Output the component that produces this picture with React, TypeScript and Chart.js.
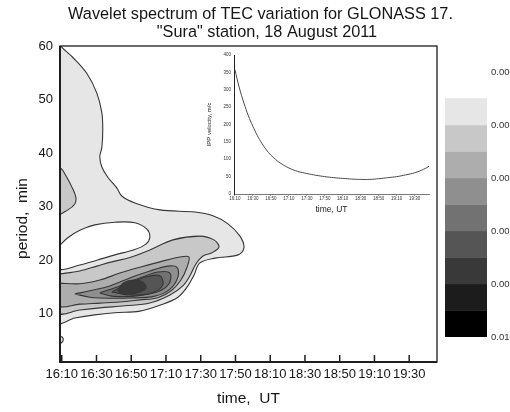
import { useEffect, useRef } from 'react';
import { Chart, registerables } from 'chart.js';

Chart.register(...registerables);

const FONT = '"Liberation Sans", Arial, Helvetica, sans-serif';
Chart.defaults.font.family = FONT;

// ---------- text ----------
const TITLE_LINES = ['Wavelet spectrum of TEC variation for GLONASS 17.', '"Sura" station, 18 August 2011'];
const X_TITLE = 'time,  UT';
const Y_TITLE = 'period,  min';
const INSET_X_TITLE = 'time, UT';
const INSET_Y_TITLE = 'IPP velocity, m/c';

// ---------- axes (time = minutes after 16:00 UT) ----------
const X_MIN = 9;
const X_MAX = 226;
const X_TICKS = [10, 30, 50, 70, 90, 110, 130, 150, 170, 190, 210];
const Y_MIN = 1;
const Y_MAX = 60;
const Y_TICKS = [10, 20, 30, 40, 50, 60];
const INSET_Y_TICKS = [0, 50, 100, 150, 200, 250, 300, 350, 400];

// ---------- colour scale ----------
const LEVELS = [0, 0.001, 0.002, 0.003, 0.004, 0.005, 0.006, 0.007, 0.008, 0.009, 0.01];
const LEVEL_LABELS = [0, 0.002, 0.004, 0.006, 0.008, 0.01];
const LEVEL_COLORS = ['#e6e6e6', '#c8c8c8', '#adadad', '#8f8f8f', '#727272', '#555555', '#393939', '#1c1c1c', '#000000'];

// ---------- inset: IPP velocity ----------
const INSET_TIMES = [10, 15, 20, 25, 30, 35, 40, 45, 50, 55, 60, 70, 80, 90, 100, 110, 120, 130, 140, 150, 160, 170, 180, 190, 200, 210, 220, 226];
const INSET_VELOCITY = [358, 305, 262, 225, 195, 168, 146, 127, 112, 100, 90, 75, 65, 59, 54, 50, 47, 45, 43, 42, 42, 44, 47, 50, 55, 61, 71, 80];

// ---------- contour polygons [time, period] ----------
const CONTOUR_L1_MAIN = [
  [8, 61], [10, 59.8], [16.3, 57.9], [24.4, 54.9], [30.2, 51.2], [33.1, 47.5], [33.6, 44.3], [33.1, 41.1],
  [31.9, 39.3], [33.1, 37.4], [36.5, 35.5], [41.7, 33.5], [44.6, 32], [52.1, 30.7], [66.5, 29.4], [86.7, 29.0],
  [97, 28.3], [105.7, 26.8], [112.6, 24.5], [114.9, 22.3], [111.5, 21.0], [98.2, 20.4], [89.5, 19.5],
  [86.1, 17.2], [82.6, 15.2], [76.9, 13.1], [66.5, 11.6], [55, 10.5], [40.6, 10.2], [29, 9.8], [17.5, 9.2], [8, 8.5],
];
const CONTOUR_L1_BLIP = [[8, 5.9], [10.4, 5.6], [10.5, 4.8], [8, 4.4]];
const CONTOUR_HOLE = [
  [8, 22.5], [13.5, 24.2], [20.4, 25.6], [29, 26.6], [40.6, 27.1], [52.1, 27.0], [59, 25.8], [60.7, 24.3],
  [58.4, 23.0], [52.1, 22.0], [40.6, 21.0], [30.2, 20.0], [20.4, 19.1], [8, 18.4],
];
const CONTOUR_L2_LOBE = [[7, 37.6], [10, 37.0], [12.9, 35.5], [15.8, 33.7], [18.1, 31.8], [17.5, 30.5], [13.5, 29.4], [7, 28.6]];
const CONTOUR_L2_MAIN = [
  [8, 17.4], [20.4, 18.0], [30.2, 18.9], [38.8, 19.7], [49.2, 20.5], [60.7, 21.9], [74, 23.8], [89.5, 24.5],
  [97.6, 23.8], [100.5, 22.5], [96.5, 21.4], [91.3, 20.8], [87.2, 19.3], [83.8, 17.1], [79.7, 15.2],
  [72.3, 13.5], [60.7, 12], [46.3, 11.5], [31.9, 11.1], [20.4, 10.7], [8, 10.2],
];
const CONTOUR_L3 = [
  [8, 15.75], [20.4, 15.6], [31.9, 16.3], [43.4, 17.6], [55, 18.7], [66.5, 19.7], [78, 20.6], [83.2, 20.6],
  [82, 18.6], [78.6, 16.3], [73.4, 14.4], [65.3, 13.0], [55, 12.6], [43.4, 12.2], [31.9, 12.0], [20.4, 11.8], [8, 11.5],
];
const CONTOUR_L4 = [
  [17.5, 13.7], [26.1, 14.3], [37.7, 15.2], [49.2, 16.7], [60.7, 18.0], [71.1, 18.9], [76.3, 18.7], [76.9, 16.9],
  [72.3, 14.6], [63.6, 13.3], [49.2, 12.95], [31.9, 12.95], [26.1, 13.1],
];
const CONTOUR_L5 = [
  [31.9, 13.9], [43.4, 15.2], [55, 16.7], [65.3, 17.8], [72.3, 17.6], [71.7, 15.6], [65.3, 14.1], [52.1, 13.3], [38.8, 13.3],
];
const CONTOUR_L6 = [[38.8, 14.1], [48, 15.6], [58.4, 16.9], [66.5, 17.1], [68.2, 15.4], [61.9, 13.9], [49.2, 13.5]];
const CONTOUR_L7 = [[42.3, 14.4], [45.7, 15.8], [51.5, 16.3], [56.7, 15.9], [58.4, 14.8], [53.2, 13.9], [45.1, 13.7]];

// bottom layer first; level 0 = below lowest contour (white)
const CONTOURS = [
  { level: 1, points: CONTOUR_L1_MAIN },
  { level: 1, points: CONTOUR_L1_BLIP },
  { level: 0, points: CONTOUR_HOLE },
  { level: 2, points: CONTOUR_L2_LOBE },
  { level: 2, points: CONTOUR_L2_MAIN },
  { level: 3, points: CONTOUR_L3 },
  { level: 4, points: CONTOUR_L4 },
  { level: 5, points: CONTOUR_L5 },
  { level: 6, points: CONTOUR_L6 },
  { level: 7, points: CONTOUR_L7 },
];

const fmtTime = (v: any) => {
  const tot = 16 * 60 + Number(v);
  const h = Math.floor(tot / 60);
  const m = Math.round(tot % 60);
  return `${h}:${String(m).padStart(2, '0')}`;
};

const TEXT = '#161616';

const framePlugin = {
  id: 'frame',
  afterDraw(chart: any) {
    const { ctx, chartArea: a, scales } = chart;
    ctx.save();
    ctx.strokeStyle = '#1e1e1e';
    // inward ticks on the time axis
    ctx.lineWidth = 1.5;
    for (const t of scales.x.ticks) {
      const px = scales.x.getPixelForValue(t.value);
      ctx.beginPath();
      ctx.moveTo(px, a.bottom);
      ctx.lineTo(px, a.bottom - 7);
      ctx.stroke();
    }
    // frame
    ctx.lineWidth = 1.3;
    ctx.strokeRect(a.left, a.top, a.right - a.left, a.bottom - a.top);
    ctx.lineWidth = 2;
    ctx.beginPath();
    ctx.moveTo(a.left, a.top);
    ctx.lineTo(a.left, a.bottom);
    ctx.lineTo(a.right, a.bottom);
    ctx.stroke();
    // title
    ctx.fillStyle = TEXT;
    ctx.textAlign = 'center';
    ctx.textBaseline = 'alphabetic';
    ctx.font = `16.3px ${FONT}`;
    const cx = (a.left + a.right) / 2;
    ctx.fillText(TITLE_LINES[0], cx + 12, 18.5);
    ctx.fillText(TITLE_LINES[1], cx + 18.5, 36.5);
    // y title
    ctx.font = `15.5px ${FONT}`;
    ctx.textBaseline = 'middle';
    ctx.translate(23, (a.top + a.bottom) / 2 + 14.5);
    ctx.rotate(-Math.PI / 2);
    ctx.fillText(Y_TITLE, 0, 0);
    ctx.restore();
  },
};

function mainConfig(): any {
  const datasets = CONTOURS.map((c, i) => {
    const pts = c.points.map(([x, y]) => ({ x, y }));
    pts.push({ ...pts[0] });
    return {
      data: pts,
      showLine: true,
      fill: 'shape',
      backgroundColor: c.level === 0 ? '#ffffff' : LEVEL_COLORS[c.level - 1],
      borderColor: '#363636',
      borderWidth: 1.1,
      pointRadius: 0,
      pointHoverRadius: 0,
      tension: 0.35,
      order: CONTOURS.length - i,
      clip: 0,
    };
  });
  return {
    type: 'scatter',
    data: { datasets },
    plugins: [framePlugin],
    options: {
      animation: false,
      responsive: false,
      events: [],
      layout: { padding: { left: 0, top: 46, right: 73, bottom: 0 } },
      plugins: {
        legend: { display: false },
        tooltip: { enabled: false },
        filler: { drawTime: 'beforeDatasetDraw' },
      },
      scales: {
        x: {
          type: 'linear',
          min: X_MIN,
          max: X_MAX,
          afterBuildTicks: (s: any) => { s.ticks = X_TICKS.map((v) => ({ value: v })); },
          afterFit: (s: any) => { s.height = 50; },
          grid: { display: false, drawTicks: false },
          border: { display: false },
          ticks: { font: { size: 13 }, color: TEXT, padding: 5, maxRotation: 0, minRotation: 0, autoSkip: false, callback: fmtTime },
          title: { display: true, text: X_TITLE, font: { size: 15.5 }, color: TEXT, padding: { top: 0, bottom: 4 } },
        },
        y: {
          type: 'linear',
          min: Y_MIN,
          max: Y_MAX,
          afterBuildTicks: (s: any) => { s.ticks = Y_TICKS.map((v) => ({ value: v })); },
          afterFit: (s: any) => { s.width = 60; },
          grid: { display: false, drawTicks: false },
          border: { display: false },
          ticks: { font: { size: 13 }, color: TEXT, padding: 7 },
        },
      },
    },
  };
}

function insetConfig(): any {
  return {
    type: 'scatter',
    data: {
      datasets: [{
        data: INSET_TIMES.map((t, i) => ({ x: t, y: INSET_VELOCITY[i] })),
        showLine: true,
        borderColor: '#4a4a4a',
        borderWidth: 1,
        pointRadius: 0,
        tension: 0.4,
      }],
    },
    options: {
      animation: false,
      responsive: false,
      events: [],
      layout: { padding: { left: 204, top: 55, right: 81, bottom: 196 } },
      plugins: { legend: { display: false }, tooltip: { enabled: false } },
      scales: {
        x: {
          type: 'linear',
          min: X_MIN,
          max: X_MAX,
          afterBuildTicks: (s: any) => { s.ticks = X_TICKS.map((v) => ({ value: v })); },
          afterFit: (s: any) => { s.height = 22; },
          grid: { display: true, drawOnChartArea: false, drawTicks: true, tickLength: 2, color: '#888', lineWidth: 0.8 },
          border: { display: true, color: '#777', width: 1 },
          ticks: { font: { size: 4.5 }, color: '#333', padding: 0, maxRotation: 0, minRotation: 0, autoSkip: false, callback: fmtTime },
          title: { display: true, text: INSET_X_TITLE, font: { size: 8.5 }, color: '#222', padding: { top: 0, bottom: 1 } },
        },
        y: {
          type: 'linear',
          min: 0,
          max: 400,
          afterBuildTicks: (s: any) => { s.ticks = INSET_Y_TICKS.map((v) => ({ value: v })); },
          afterFit: (s: any) => { s.width = 30; },
          grid: { display: false, drawTicks: false },
          border: { display: true, color: '#222', width: 1 },
          ticks: { font: { size: 4.5 }, color: '#333', padding: 3 },
          title: { display: true, text: INSET_Y_TITLE, font: { size: 6 }, color: '#222', padding: { top: 1.5, bottom: 0 } },
        },
      },
    },
  };
}

function colorbarConfig(): any {
  return {
    type: 'bar',
    data: {
      labels: [''],
      datasets: LEVEL_COLORS.map((c, i) => ({
        data: [[LEVELS[i + 1], LEVELS[i + 2]]],
        backgroundColor: c,
        borderWidth: 0,
        grouped: false,
        barPercentage: 1,
        categoryPercentage: 1,
      })),
    },
    options: {
      animation: false,
      responsive: false,
      events: [],
      layout: { padding: { left: 445, top: 72, right: 0, bottom: 75 } },
      plugins: { legend: { display: false }, tooltip: { enabled: false } },
      scales: {
        x: { display: false },
        y: {
          position: 'right',
          min: 0,
          max: 0.01,
          reverse: true,
          afterBuildTicks: (s: any) => { s.ticks = LEVEL_LABELS.map((v) => ({ value: v })); },
          afterFit: (s: any) => { s.width = 23; },
          grid: { display: false, drawTicks: false },
          border: { display: false },
          ticks: { font: { size: 9.5 }, color: '#333', padding: 4, callback: (v: any) => Number(v).toFixed(3) },
        },
      },
    },
  };
}

export default function App() {
  const mainRef = useRef<HTMLCanvasElement>(null);
  const insetRef = useRef<HTMLCanvasElement>(null);
  const barRef = useRef<HTMLCanvasElement>(null);

  useEffect(() => {
    const charts = [
      new Chart(mainRef.current as HTMLCanvasElement, mainConfig()),
      new Chart(insetRef.current as HTMLCanvasElement, insetConfig()),
      new Chart(barRef.current as HTMLCanvasElement, colorbarConfig()),
    ];
    return () => charts.forEach((c) => c.destroy());
  }, []);

  const st: any = { position: 'absolute', left: 0, top: 0, width: '510px', height: '412px' };
  return (
    <div style={{ position: 'fixed', left: 0, top: 0, width: 510, height: 412, overflow: 'hidden', background: '#ffffff' }}>
      <canvas ref={mainRef} width={510} height={412} style={st} />
      <canvas ref={insetRef} width={510} height={412} style={st} />
      <canvas ref={barRef} width={510} height={412} style={st} />
    </div>
  );
}
